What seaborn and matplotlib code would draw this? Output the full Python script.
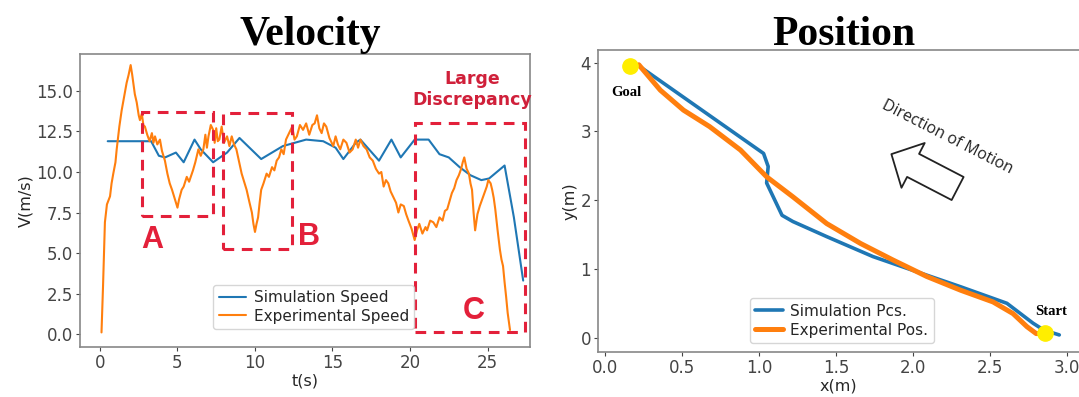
import numpy as np
import pandas as pd
import matplotlib
matplotlib.use('Agg')
import matplotlib.pyplot as plt
from matplotlib.patches import Rectangle
import seaborn as sns

# velocity
t_sim = [0.5, 3.3, 3.8, 4.2, 4.9, 5.4, 6.1, 6.5, 7.3, 8.2, 9.0, 10.4, 11.8, 13.3, 14.4,
         15.2, 15.7, 16.5, 16.8, 18.0, 18.8, 19.4, 20.3, 21.2, 21.9, 22.5, 23.2, 23.9,
         24.6, 25.1, 26.1, 26.7, 27.3]
v_sim = [11.9, 11.9, 11.0, 10.9, 11.2, 10.6, 12.0, 11.4, 10.6, 11.2, 12.1, 10.8, 11.6, 12.0, 11.9,
         11.5, 10.8, 11.8, 12.0, 10.7, 12.0, 10.9, 12.0, 12.0, 11.1, 10.9, 10.3, 9.8,
         9.5, 9.6, 10.4, 7.2, 3.3]

t_exp = [0.1, 0.2, 0.32, 0.45, 0.65, 0.75, 0.86, 1.0, 1.08, 1.25, 1.4, 1.55, 1.72, 1.85, 1.98,
         2.08, 2.15, 2.25, 2.37, 2.5, 2.58, 2.7, 2.8, 2.9, 3.05, 3.2, 3.35, 3.45, 3.55, 3.7,
         3.87, 4.0, 4.19, 4.35, 4.5, 4.65, 4.84, 5.0, 5.1, 5.27, 5.4, 5.6, 5.75, 6.0, 6.15,
         6.35, 6.5, 6.67, 6.8, 6.9, 7.0, 7.15, 7.3, 7.4, 7.5, 7.6, 7.7, 7.85, 8.0, 8.2,
         8.35, 8.5, 8.65, 8.8, 9.0, 9.14, 9.3, 9.46, 9.65, 9.8, 9.9, 10.0, 10.1, 10.2, 10.3,
         10.4, 10.55, 10.75, 10.9, 11.1, 11.25, 11.4, 11.55, 11.7, 11.85, 12.0, 12.2, 12.4,
         12.55, 12.7, 12.9, 13.1, 13.3, 13.5, 13.7, 13.85, 14.0, 14.15, 14.3, 14.45, 14.6,
         14.8, 15.05, 15.2, 15.35, 15.5, 15.7, 15.9, 16.1, 16.3, 16.5, 16.65, 16.8, 17.0,
         17.2, 17.4, 17.6, 17.8, 18.0, 18.15, 18.3, 18.45, 18.6, 18.75, 18.9, 19.1, 19.25,
         19.4, 19.6, 19.75, 19.9, 20.1, 20.3, 20.45, 20.6, 20.8, 21.0, 21.1, 21.3, 21.5,
         21.7, 21.9, 22.1, 22.25, 22.4, 22.55, 22.7, 22.85, 23.0, 23.15, 23.3, 23.4, 23.5,
         23.65, 23.8, 23.9, 24.0, 24.1, 24.2, 24.35, 24.5, 24.65, 24.8, 24.95, 25.05, 25.2,
         25.3, 25.4, 25.5, 25.65, 25.8, 25.9, 26.0, 26.1, 26.2, 26.3, 26.45]
v_exp = [0.1, 3.0, 6.9, 8.0, 8.5, 9.3, 9.9, 10.6, 11.4, 12.8, 13.8, 14.6, 15.5, 16.0, 16.6,
         16.0, 15.5, 14.8, 14.3, 13.5, 13.2, 13.6, 12.9, 12.8, 12.3, 11.9, 12.4, 11.8, 12.2, 11.7,
         12.0, 11.3, 10.7, 9.9, 9.3, 8.9, 8.3, 7.8, 8.3, 8.9, 9.1, 9.7, 9.4, 10.1, 10.6,
         11.4, 11.0, 11.4, 12.3, 11.5, 12.2, 12.9, 12.6, 11.8, 12.7, 11.9, 12.0, 12.8, 11.8, 12.2,
         11.6, 12.2, 11.7, 11.4, 10.5, 9.9, 9.4, 8.9, 8.1, 7.5, 6.8, 6.3, 6.8, 7.2, 8.1,
         8.9, 9.3, 9.9, 9.7, 10.3, 10.1, 10.7, 10.9, 11.4, 11.1, 12.0, 12.4, 12.8,
         12.0, 12.2, 12.9, 12.6, 13.0, 12.3, 12.9, 13.0, 13.5, 12.7, 12.4, 13.0, 12.8,
         12.1, 11.6, 12.2, 11.7, 11.4, 12.0, 11.8, 11.2, 11.4, 12.0, 11.5, 12.0, 11.6,
         11.4, 10.9, 10.7, 10.2, 9.9, 10.0, 9.1, 9.5, 9.3, 8.8, 8.5, 8.1, 7.5,
         8.0, 7.9, 7.4, 7.0, 6.5, 5.8, 6.4, 6.8, 6.2, 6.6, 6.4, 7.0, 6.9,
         6.6, 7.2, 7.0, 7.6, 7.7, 8.2, 8.7, 9.0, 9.5, 9.8, 10.2, 10.6, 10.9,
         10.2, 9.9, 9.3, 8.9, 7.5, 6.4, 7.4, 7.9, 8.3, 8.7, 9.1, 9.5, 9.3,
         8.9, 8.4, 7.7, 6.4, 5.2, 4.6, 4.2, 3.2, 2.3, 1.3, 0.25]

# position
x_sim = [0.21, 1.03, 1.06, 1.05, 1.15, 1.22, 1.44, 1.74, 2.05, 2.31, 2.61, 2.78, 2.85, 2.95]
y_sim = [3.97, 2.68, 2.49, 2.25, 1.78, 1.69, 1.47, 1.18, 0.94, 0.74, 0.50, 0.21, 0.11, 0.04]
x_exp = [0.22, 0.36, 0.51, 0.68, 0.88, 1.05, 1.22, 1.44, 1.66, 1.87, 2.09, 2.31, 2.52, 2.65,
         2.74, 2.80, 2.86]
y_exp = [3.97, 3.60, 3.31, 3.07, 2.73, 2.34, 2.05, 1.66, 1.37, 1.13, 0.89, 0.69, 0.52, 0.35,
         0.16, 0.06, 0.06]

goal_xy = (0.16, 3.95)
start_xy = (2.86, 0.07)

# discrepancy boxes: (t0, t1, v0, v1)
box_names = ['A', 'B', 'C']
box_t = [(2.7, 7.3), (7.95, 12.4), (20.3, 27.4)]
box_v = [(7.3, 13.7), (5.25, 13.65), (0.15, 13.05)]

sns.set_theme(style='ticks')
plt.rcParams['font.family'] = ['DejaVu Sans']

BLUE = '#1f77b4'
ORANGE = '#ff7f0e'
RED = '#e3203a'

fig = plt.figure(figsize=(10.79, 3.97), dpi=100)
ax1 = fig.add_axes([0.0741, 0.1259, 0.4171, 0.738])
ax2 = fig.add_axes([0.5542, 0.1141, 0.4458, 0.760])

vel_sim = pd.DataFrame({'t': t_sim, 'v': v_sim})
vel_exp = pd.DataFrame({'t': t_exp, 'v': v_exp})
sns.lineplot(data=vel_sim, x='t', y='v', ax=ax1, color=BLUE, lw=1.5, label='Simulation Speed')
sns.lineplot(data=vel_exp, x='t', y='v', ax=ax1, color=ORANGE, lw=1.5, label='Experimental Speed')

for name, (t0, t1), (v0, v1) in zip(box_names, box_t, box_v):
    ax1.add_patch(Rectangle((t0, v0), t1 - t0, v1 - v0, fill=False, ec=RED, lw=2.2,
                            ls=(0, (3.5, 2.5)), zorder=5))

ax1.text(3.35, 5.8, 'A', color=RED, fontsize=22, fontweight='bold', ha='center', va='center',
         family=['Liberation Sans'])
ax1.text(13.5, 6.0, 'B', color=RED, fontsize=22, fontweight='bold', ha='center', va='center',
         family=['Liberation Sans'])
ax1.text(24.1, 1.4, 'C', color=RED, fontsize=22, fontweight='bold', ha='center', va='center',
         family=['Liberation Sans'])
ax1.text(24.0, 15.1, 'Large\nDiscrepancy', color='#d0203a', fontsize=12.5, fontweight='bold',
         ha='center', va='center', linespacing=1.2)

ax1.set_xlim(-1.29, 27.74)
ax1.set_ylim(-0.8, 17.28)
ax1.set_xticks([0, 5, 10, 15, 20, 25])
ax1.set_yticks([0, 2.5, 5, 7.5, 10, 12.5, 15])
ax1.set_yticklabels(['0.0', '2.5', '5.0', '7.5', '10.0', '12.5', '15.0'])
ax1.set_xlabel('t(s)', fontsize=11.5, labelpad=1)
ax1.set_ylabel('V(m/s)', fontsize=11.5, labelpad=2)
ax1.legend(loc='lower left', bbox_to_anchor=(0.296, 0.061), borderaxespad=0, fontsize=11,
           handlelength=1.8, handletextpad=0.5, borderpad=0.35, labelspacing=0.25)

pos_sim = pd.DataFrame({'x': x_sim, 'y': y_sim})
pos_exp = pd.DataFrame({'x': x_exp, 'y': y_exp})
sns.lineplot(data=pos_sim, x='x', y='y', ax=ax2, sort=False, estimator=None, color=BLUE, lw=2.6,
             label='Simulation Pcs.')
sns.lineplot(data=pos_exp, x='x', y='y', ax=ax2, sort=False, estimator=None, color=ORANGE, lw=3.6,
             label='Experimental Pos.')
ax2.plot(*goal_xy, 'o', color='#ffee00', ms=11, zorder=6)
ax2.plot(*start_xy, 'o', color='#ffee00', ms=11, zorder=6)
ax2.text(0.14, 3.56, 'Goal', fontsize=10.5, fontweight='bold', ha='center', va='center',
         family=['Liberation Serif'], color='black')
ax2.text(2.90, 0.38, 'Start', fontsize=10.5, fontweight='bold', ha='center', va='center',
         family=['Liberation Serif'], color='black')
ax2.text(2.22, 2.92, 'Direction of Motion', fontsize=11.5, rotation=-27, ha='center', va='center',
         rotation_mode='anchor', color='#222222', family=['Open Sans'])
ax2.annotate('', xy=(1.86, 2.67), xytext=(2.29, 2.17),
             arrowprops=dict(arrowstyle='simple,head_length=0.8,head_width=1.65,tail_width=0.85',
                             fc='white', ec='#222222', lw=1.3, mutation_scale=22,
                             shrinkA=0, shrinkB=0))

ax2.set_xlim(-0.045, 3.078)
ax2.set_ylim(-0.204, 4.185)
ax2.set_xticks([0, 0.5, 1.0, 1.5, 2.0, 2.5, 3.0])
ax2.set_yticks([0, 1, 2, 3, 4])
ax2.set_xlabel('x(m)', fontsize=11.5, labelpad=1)
ax2.set_ylabel('y(m)', fontsize=11.5, labelpad=2)
ax2.spines['right'].set_visible(False)
ax2.legend(loc='lower left', bbox_to_anchor=(0.316, 0.029), borderaxespad=0, fontsize=11,
           handlelength=1.8, handletextpad=0.5, borderpad=0.35, labelspacing=0.25)

for ax in (ax1, ax2):
    ax.tick_params(labelsize=12, colors='#444444', length=3, width=0.8, pad=2)
    for s in ax.spines.values():
        s.set_color('#888888')
        s.set_linewidth(1.2)

fig.text(310 / 1079, 1 - 45 / 397, 'Velocity', fontsize=30, fontweight='bold', ha='center',
         va='baseline', family=['Liberation Serif'], color='black')
fig.text(844 / 1079, 1 - 45 / 397, 'Position', fontsize=30, fontweight='bold', ha='center',
         va='baseline', family=['Liberation Serif'], color='black')

fig.savefig('out.png', dpi=100)
